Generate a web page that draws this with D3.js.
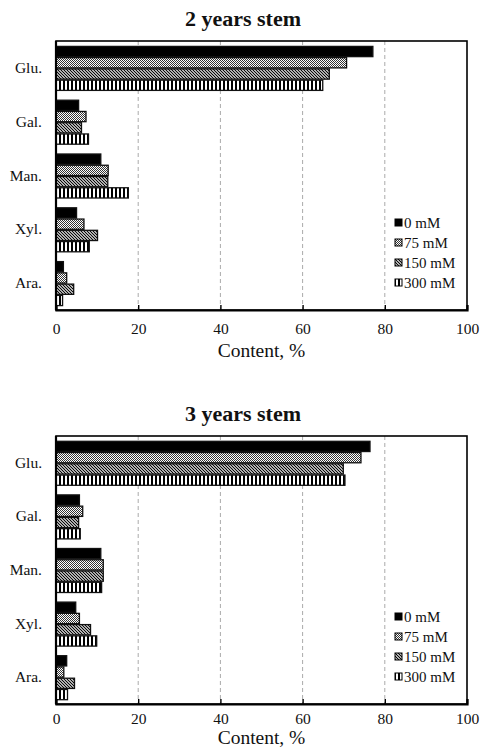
<!DOCTYPE html>
<html>
<head>
<meta charset="utf-8">
<script src="https://cdn.jsdelivr.net/npm/d3@7"></script>
<style>
  body { margin: 0; background: #fff; }
  text { font-family: "Liberation Serif", "DejaVu Serif", serif; fill: #111; }
</style>
</head>
<body>
<svg width="487" height="752"></svg>
<script>
var categories = ["Glu.", "Gal.", "Man.", "Xyl.", "Ara."];
var seriesNames = ["0 mM", "75 mM", "150 mM", "300 mM"];
var xTicks = [0, 20, 40, 60, 80, 100];

// 2 years stem
var y2_0 = [77.1, 5.5, 10.9, 5.0, 1.8];
var y2_75 = [70.7, 7.3, 12.7, 6.8, 2.6];
var y2_150 = [66.5, 6.2, 12.6, 10.1, 4.3];
var y2_300 = [64.9, 7.9, 17.6, 8.1, 1.6];

// 3 years stem
var y3_0 = [76.4, 5.7, 10.9, 4.8, 2.6];
var y3_75 = [74.2, 6.5, 11.5, 5.7, 1.9];
var y3_150 = [69.9, 5.5, 11.5, 8.4, 4.5];
var y3_300 = [70.3, 5.9, 11.1, 9.9, 2.8];

const svg = d3.select("svg");

// 填充图案
const defs = svg.append("defs");
var p1 = defs.append("pattern").attr("id", "pat75").attr("patternUnits", "userSpaceOnUse")
  .attr("width", 2).attr("height", 2);
p1.append("rect").attr("width", 2).attr("height", 2).attr("fill", "#fff");
p1.append("rect").attr("width", 1).attr("height", 1).attr("fill", "#333");
p1.append("rect").attr("x", 1).attr("y", 1).attr("width", 1).attr("height", 1).attr("fill", "#333");

var p2 = defs.append("pattern").attr("id", "pat150").attr("patternUnits", "userSpaceOnUse")
  .attr("width", 3).attr("height", 3);
p2.append("rect").attr("width", 3).attr("height", 3).attr("fill", "#fff");
p2.append("path").attr("d", "M-1,-1 L4,4 M-1,2 L1,4 M2,-1 L4,1")
  .attr("stroke", "#000").attr("stroke-width", 1.2);

var p3 = defs.append("pattern").attr("id", "pat300").attr("patternUnits", "userSpaceOnUse")
  .attr("width", 4).attr("height", 4);
p3.append("rect").attr("width", 4).attr("height", 4).attr("fill", "#000");
p3.append("rect").attr("x", 1).attr("width", 2).attr("height", 4).attr("fill", "#fff");

var fills = ["#000", "url(#pat75)", "url(#pat150)", "url(#pat300)"];

function drawChart(title, values, top, bottom, titleY, tickDy, labelDy) {
  const left = 56, right = 467;
  const xScale = d3.scaleLinear().domain([0, 100]).range([left, right]);
  const yScale = d3.scaleBand().domain(categories).range([top, bottom]);
  const sub = d3.scaleBand().domain(seriesNames).range([0, 44]).paddingInner(0.09);
  const off = (yScale.bandwidth() - 44) / 2 + 0.5;

  const g = svg.append("g");

  g.append("text")
    .attr("x", 243).attr("y", titleY)
    .attr("text-anchor", "middle")
    .style("font-size", "22px").style("font-weight", "bold")
    .text(title);

  // 网格虚线
  g.selectAll(".grid").data(xTicks.slice(1, -1)).enter()
    .append("line")
    .attr("x1", d => xScale(d)).attr("x2", d => xScale(d))
    .attr("y1", top).attr("y2", bottom)
    .attr("stroke", "#aaa").attr("stroke-dasharray", "4,3").attr("stroke-width", 1);

  // bars
  var rows = [];
  categories.forEach((c, i) => {
    seriesNames.forEach((s, j) => {
      rows.push({ cat: c, ser: s, j: j, value: values[j][i] });
    });
  });
  g.selectAll(".bar").data(rows).enter()
    .append("rect")
    .attr("x", xScale(0))
    .attr("y", d => yScale(d.cat) + off + sub(d.ser))
    .attr("width", d => xScale(d.value) - xScale(0))
    .attr("height", sub.bandwidth())
    .attr("fill", d => fills[d.j])
    .attr("stroke", "#111").attr("stroke-width", 1.3);

  // frame
  g.append("rect")
    .attr("x", left).attr("y", top)
    .attr("width", right - left).attr("height", bottom - top)
    .attr("fill", "none").attr("stroke", "#000").attr("stroke-width", 1.6);
  g.append("line")
    .attr("x1", left).attr("x2", left).attr("y1", top).attr("y2", bottom)
    .attr("stroke", "#000").attr("stroke-width", 2.2);

  const xAxis = d3.axisBottom(xScale).tickValues(xTicks).tickSize(-5).tickPadding(0);
  const xAxisG = g.append("g").attr("transform", `translate(0,${bottom})`).call(xAxis);
  xAxisG.select(".domain").attr("stroke-width", 2.2);
  xAxisG.selectAll(".tick line").attr("stroke-width", 1.4);
  xAxisG.selectAll(".tick text")
    .attr("y", tickDy).attr("dy", 0)
    .style("font-size", "15.5px").style("font-family", "Liberation Serif").attr("fill", "#111");

  g.append("text")
    .attr("x", (left + right) / 2).attr("y", bottom + labelDy)
    .attr("text-anchor", "middle")
    .style("font-size", "19.5px")
    .text("Content, %");

  g.selectAll(".cat").data(categories).enter()
    .append("text")
    .attr("x", 42)
    .attr("y", d => yScale(d) + yScale.bandwidth() / 2 + 5)
    .attr("text-anchor", "end")
    .style("font-size", "15.5px")
    .text(d => d);

  // legend
  const lg = g.append("g").attr("transform", `translate(395,${bottom - 87})`);
  seriesNames.forEach((s, j) => {
    lg.append("rect")
      .attr("x", 0).attr("y", j * 20 - 4)
      .attr("width", 7).attr("height", 7)
      .attr("fill", fills[j]).attr("stroke", "#000").attr("stroke-width", 1);
    lg.append("text")
      .attr("x", 9).attr("y", j * 20 + 4.5)
      .style("font-size", "15px")
      .text(s);
  });
}

drawChart("2 years stem", [y2_0, y2_75, y2_150, y2_300], 41, 310, 26, 24, 47);
drawChart("3 years stem", [y3_0, y3_75, y3_150, y3_300], 436, 704, 421, 20, 40);
</script>
</body>
</html>
